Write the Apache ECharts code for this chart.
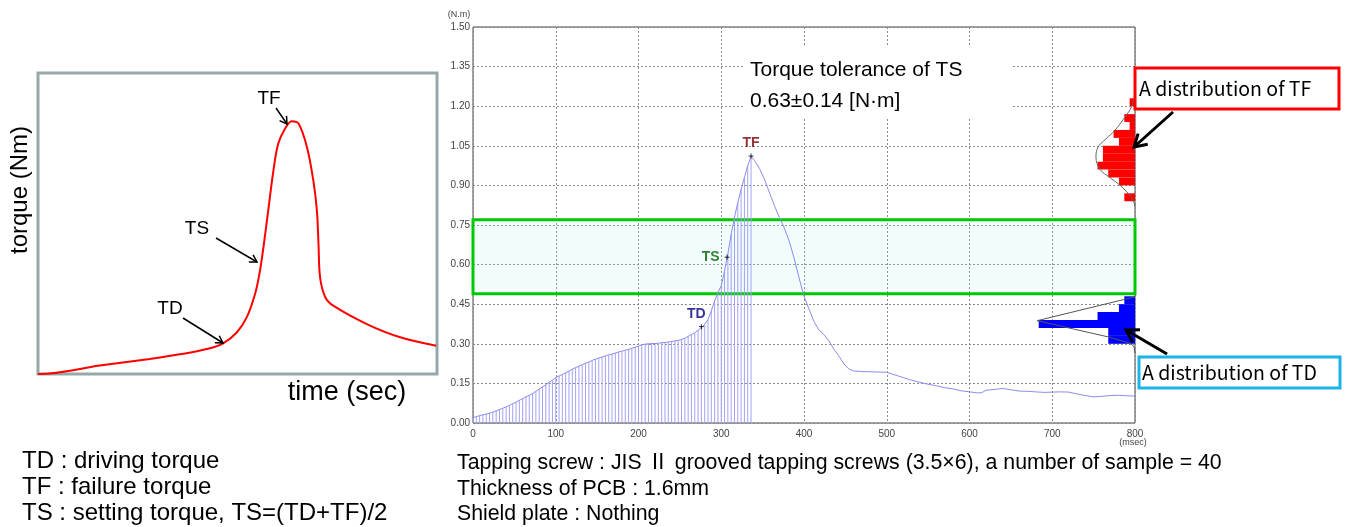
<!DOCTYPE html>
<html><head><meta charset="utf-8">
<script src="https://cdn.jsdelivr.net/npm/echarts@6/dist/echarts.min.js"></script>
<style>html,body{margin:0;padding:0;background:#fff}#c{width:1349px;height:527px}</style>
</head><body><div id="c"></div>
<script>
// ---------- DATA ----------
// measured torque curve (ms, N·m)
const timeMs = [0,4,8,12,16,20,24,28,32,36,40,44,48,52,56,60,64,68,72,76,80,84,88,92,96,100,
  104,108,112,116,120,124,128,132,136,140,144,148,152,156,160,164,168,172,176,180,184,188,192,196,200,
  204,208,212,216,220,224,228,232,236,240,244,248,252,256,260,264,268,272,276,280,284,288,292,296,300,
  304,308,312,316,320,324,328,332,336,
  340,346,352,358,364,370,376,382,388,394,400,406,412,418,424,430,436,442,448,454,460,470,480,490,500,
  510,520,530,540,550,560,570,580,590,600,610,615,620,630,640,650,660,670,680,690,700,710,720,730,740,
  750,760,770,780,790,800];
const torque = [0.020,0.024,0.028,0.031,0.034,0.037,0.041,0.046,0.051,0.056,0.061,0.067,0.073,0.079,0.086,0.092,0.099,0.105,0.112,0.120,0.128,0.137,0.145,0.154,0.162,0.172,
  0.178,0.184,0.190,0.197,0.204,0.210,0.215,0.221,0.226,0.231,0.237,0.242,0.246,0.250,0.254,0.258,0.261,0.265,0.269,0.272,0.276,0.279,0.283,0.287,0.291,
  0.296,0.299,0.300,0.301,0.301,0.302,0.304,0.305,0.307,0.309,0.311,0.313,0.316,0.321,0.328,0.335,0.342,0.351,0.362,0.374,0.392,0.425,0.462,0.495,0.520,
  0.575,0.640,0.715,0.780,0.835,0.885,0.930,0.975,1.010,
  0.995,0.965,0.925,0.875,0.825,0.780,0.740,0.690,0.625,0.550,0.480,0.432,0.385,0.352,0.335,0.312,0.280,0.255,0.225,0.205,0.197,0.195,0.194,0.193,0.192,
  0.182,0.172,0.162,0.154,0.147,0.141,0.134,0.129,0.122,0.118,0.114,0.115,0.124,0.127,0.131,0.126,0.121,0.120,0.118,0.116,0.117,0.118,0.117,0.110,0.104,
  0.099,0.101,0.104,0.105,0.103,0.102];
const hatchEndMs = 336;            // vertical sample lines drawn up to TF
const keyNames  = ['TD','TS','TF'];
const keyTimes  = [276, 307, 336];
const keyTorque = [0.365, 0.628, 1.011];
const tsCenter = 0.63, tsTol = 0.14;

// histograms (bin lower edge, N·m ; count)
const binWidth = 0.03;
const tfBinLow  = [1.20,1.17,1.14,1.11,1.08,1.05,1.02,0.99,0.96,0.93,0.90,0.87,0.84];
const tfCounts  = [1,0,2,1,4,3,6,6,7,5,3,0,2];
const tdBinLow  = [0.45,0.42,0.39,0.36,0.33,0.30];
const tdCounts  = [2,3,7,18,5,5];
// fitted distribution outlines (count-scale, N·m)
const tfFitX = [0,0.6,1.3,2.2,3.7,5.5,6.9,7.3,6.5,4.7,2.5,0.9,0.2,0];
const tfFitY = [1.24,1.20,1.175,1.15,1.11,1.075,1.045,1.008,0.96,0.93,0.895,0.86,0.835,0.82];
const tdFitX = [0,18.3,5.2,0.9,0.2,0];
const tdFitY = [0.478,0.3875,0.327,0.302,0.29,0.265];

// schematic curve (relative units 0..100)
const schemX = [0,0.25,15.5,28.0,36.4,42.3,46.4,49.8,52.3,54.4,55.5,56.5,57.7,59.0,60.2,61.9,63.6,65.3,67.4,69.0,69.9,70.3,70.7,72.0,74.0,82.4,90.8,99.8];
const schemY = [0,0,2.8,5.0,6.7,8.3,10.2,13.8,18.8,26.6,33.3,42.1,54.3,67.6,76.5,81.5,84.0,83.2,75.4,64.3,54.3,43.2,32.1,25.5,22.7,16.6,12.2,9.4];

const yTicks = {min:0, max:1.5, interval:0.15};
const xTicks = {min:0, max:800, interval:100};

// ---------- CHART ----------
const F = 'Liberation Sans, Arial, Noto Sans CJK JP, sans-serif';
const FJ = '"Noto Sans CJK JP", sans-serif';
const chart = echarts.init(document.getElementById('c'));

const curve = timeMs.map((t,i)=>[t,torque[i]]);
const hatch = curve.filter(p=>p[0]<=hatchEndMs);

function arrow(x1,y1,x2,y2,lw,head){
  const dx=x2-x1, dy=y2-y1, L=Math.hypot(dx,dy), ux=dx/L, uy=dy/L;
  const bx=x2-ux*head, by=y2-uy*head, px=-uy*head*0.6, py=ux*head*0.6;
  return [
    {type:'line', z:100, shape:{x1,y1,x2,y2}, style:{stroke:'#000', lineWidth:lw}},
    {type:'polyline', z:100, shape:{points:[[bx+px,by+py],[x2,y2],[bx-px,by-py]]}, style:{stroke:'#000', lineWidth:lw, fill:null}}
  ];
}
function txt(x,y,text,size,opt){
  const fam = (opt&&opt.family)||F;
  return Object.assign({type:'text', z:101, x, y, style:Object.assign({text, font:size+'px '+fam, fill:'#000', textAlign:'left', verticalAlign:'middle', textVerticalAlign:'middle'}, (opt&&opt.style)||{})}, (opt&&opt.el)||{});
}
function histRender(color){
  return function(params, api){
    const lo=api.value(0), hi=api.value(1), n=api.value(2);
    const a=api.coord([n,hi]), b=api.coord([0,lo]);
    return {type:'rect', shape:{x:Math.min(a[0],b[0]), y:a[1], width:Math.abs(b[0]-a[0]), height:b[1]-a[1]}, style:{fill:color}};
  };
}

const dash = {color:'#8a8a8a', type:[2,2], width:1};

const option = {
  animation:false,
  backgroundColor:'#fff',
  grid:[
    {left:473, right:214, top:27, bottom:104, show:true, borderColor:'#444', borderWidth:1, backgroundColor:'transparent'},
    {left:1028, width:107, top:27, bottom:104, show:false},
    {left:38, width:399, top:73, height:301, show:true, borderColor:'#95a9ab', borderWidth:3, backgroundColor:'transparent'}
  ],
  xAxis:[
    {type:'value', gridIndex:0, min:xTicks.min, max:xTicks.max, interval:xTicks.interval,
     axisLine:{show:false}, axisTick:{show:false}, splitLine:{show:true, lineStyle:dash},
     axisLabel:{fontSize:10, color:'#444', fontFamily:F, margin:6, showMaxLabel:true}},
    {type:'value', gridIndex:1, min:0, max:20, inverse:true, show:false},
    {type:'value', gridIndex:2, min:0, max:100, show:false}
  ],
  yAxis:[
    {type:'value', gridIndex:0, min:yTicks.min, max:yTicks.max, interval:yTicks.interval,
     axisLine:{show:false}, axisTick:{show:false}, splitLine:{show:true, lineStyle:dash},
     axisLabel:{fontSize:10, color:'#444', fontFamily:F, margin:3, formatter:v=>v.toFixed(2)}},
    {type:'value', gridIndex:1, min:yTicks.min, max:yTicks.max, show:false},
    {type:'value', gridIndex:2, min:0, max:100, show:false}
  ],
  series:[
    {type:'bar', xAxisIndex:0, yAxisIndex:0, data:hatch, barWidth:1, silent:true, z:2,
     itemStyle:{color:'#a2a2f5'}},
    {type:'line', xAxisIndex:0, yAxisIndex:0, data:curve, showSymbol:false, silent:true, z:3,
     lineStyle:{color:'#8c8cef', width:1},
     markArea:{silent:true, itemStyle:{color:'rgba(170,238,242,0.16)', borderColor:'#00c800', borderWidth:3},
       data:[[{xAxis:xTicks.min, yAxis:tsCenter-tsTol},{xAxis:xTicks.max, yAxis:tsCenter+tsTol}]]}},
    {type:'scatter', xAxisIndex:0, yAxisIndex:0, symbol:'rect', symbolSize:[5,1], silent:true, z:5,
     itemStyle:{color:'#000'}, data:keyTimes.map((t,i)=>[t,keyTorque[i]])},
    {type:'scatter', xAxisIndex:0, yAxisIndex:0, symbol:'rect', symbolSize:[1,5], silent:true, z:5,
     itemStyle:{color:'#000'},
     data:keyTimes.map((t,i)=>{
       const cfg = {
         TD:{position:'top', offset:[-5,0], distance:3, color:'#000080'},
         TS:{position:'left', distance:7, color:'#006000'},
         TF:{position:'top', distance:3, color:'#7a0000'}
       }[keyNames[i]];
       return {value:[t,keyTorque[i]], label:Object.assign({show:true, formatter:keyNames[i], fontSize:14, fontWeight:'bold', fontFamily:F}, cfg)};
     })},
    {type:'custom', xAxisIndex:1, yAxisIndex:1, silent:true, z:4, renderItem:histRender('#ff0000'),
     data:tfBinLow.map((lo,i)=>[lo, lo+binWidth, tfCounts[i]])},
    {type:'custom', xAxisIndex:1, yAxisIndex:1, silent:true, z:4, renderItem:histRender('#0000ff'),
     data:tdBinLow.map((lo,i)=>[lo, lo+binWidth, tdCounts[i]])},
    {type:'line', xAxisIndex:1, yAxisIndex:1, data:tfFitX.map((x,i)=>[x,tfFitY[i]]), smooth:0.4, showSymbol:false, silent:true, z:6,
     lineStyle:{color:'#666', width:1}},
    {type:'line', xAxisIndex:1, yAxisIndex:1, data:tdFitX.map((x,i)=>[x,tdFitY[i]]), showSymbol:false, silent:true, z:6,
     lineStyle:{color:'#555', width:1}},
    {type:'line', xAxisIndex:2, yAxisIndex:2, data:schemX.map((x,i)=>[x,schemY[i]]), smooth:0.35, showSymbol:false, silent:true, z:6,
     lineStyle:{color:'#ff0000', width:2}}
  ],
  graphic:[
    // axis units
    txt(459,15,'(N.m)',9,{style:{textAlign:'center', fill:'#444'}}),
    txt(1133,443,'(msec)',9,{style:{textAlign:'center', fill:'#444'}}),
    // tolerance note
    {type:'rect', z:90, shape:{x:745, y:46, width:268, height:72}, style:{fill:'#fff'}},
    txt(750,70,'Torque tolerance of TS',21),
    txt(750,101,'0.63±0.14 [N·m]',21),
    // distribution call-outs
    {type:'rect', z:99, shape:{x:1135, y:68, width:204, height:41}, style:{fill:'#fff', stroke:'#ff0000', lineWidth:3}},
    txt(1139,89,'A distribution of TF',19.5,{family:FJ}),
    ...arrow(1173,112,1134,147,3,12),
    {type:'rect', z:99, shape:{x:1139, y:357, width:201, height:31}, style:{fill:'#fff', stroke:'#1ab4ea', lineWidth:3}},
    txt(1142,373,'A distribution of TD',19.5,{family:FJ}),
    ...arrow(1167,354,1126,330,3,12),
    // schematic annotations
    txt(269,99,'TF',19,{style:{textAlign:'center'}}),
    ...arrow(276,108,287,124,1.5,7),
    txt(197,229,'TS',19,{style:{textAlign:'center'}}),
    ...arrow(216,238,257,262,1.5,7),
    txt(170,309,'TD',19,{style:{textAlign:'center'}}),
    ...arrow(183,318,223,343,1.5,7),
    txt(20,190,'torque (Nm)',24,{style:{textAlign:'center'}, el:{rotation:Math.PI/2}}),
    txt(347,393,'time (sec)',27,{style:{textAlign:'center'}}),
    // legends / notes
    txt(22,461,'TD : driving torque',24),
    txt(22,487,'TF : failure torque',24),
    txt(22,513,'TS : setting torque, TS=(TD+TF)/2',24),
    txt(457,463,'Tapping screw : JIS Ⅱ grooved tapping screws (3.5×6), a number of sample = 40',21.3),
    txt(457,489,'Thickness of PCB : 1.6mm',21.3),
    txt(457,514,'Shield plate : Nothing',21.3)
  ]
};
chart.setOption(option);
</script>
</body></html>
